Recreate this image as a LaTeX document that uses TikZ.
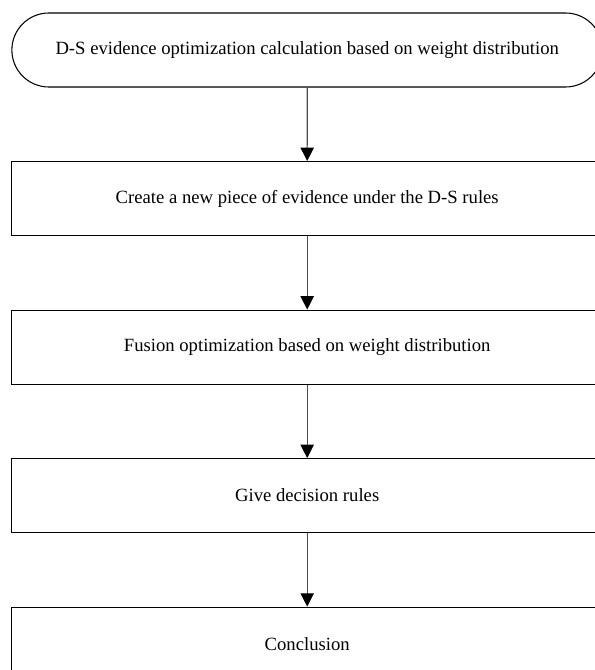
\documentclass[tikz,border=0pt]{standalone}
\usepackage{fontspec}
\setmainfont{Liberation Serif}
\usepackage{tikz}
\usetikzlibrary{shapes,arrows,positioning,arrows.meta}

\tikzset{
    terminal/.style={rounded rectangle, draw, line width=0.8pt, minimum width=443pt, minimum height=55.5pt, inner sep=0pt, font=\fontsize{14}{17}\selectfont},
    stepbox/.style={rectangle, draw, line width=0.8pt, minimum width=443pt, minimum height=55.5pt, inner sep=0pt, font=\fontsize{14}{17}\selectfont},
    flow/.style={-{Triangle[width=10pt,length=10pt,color=black]}, line width=0.8pt, draw=black!70}
}

\begin{document}
\begin{tikzpicture}[node distance=55.1pt]
    \clip (0,0) rectangle (446.25pt,-502.5pt);

    \node [terminal] (start) at (230.4pt,-37.5pt) {D-S evidence optimization calculation based on weight distribution};
    \node [stepbox, below=of start] (create) {Create a new piece of evidence under the D-S rules};
    \node [stepbox, below=of create] (fusion) {Fusion optimization based on weight distribution};
    \node [stepbox, below=of fusion] (decide) {Give decision rules};
    \node [stepbox, below=of decide] (concl) {Conclusion};

    \draw [flow] (start) -- (create);
    \draw [flow] (create) -- (fusion);
    \draw [flow] (fusion) -- (decide);
    \draw [flow] (decide) -- (concl);
\end{tikzpicture}
\end{document}
